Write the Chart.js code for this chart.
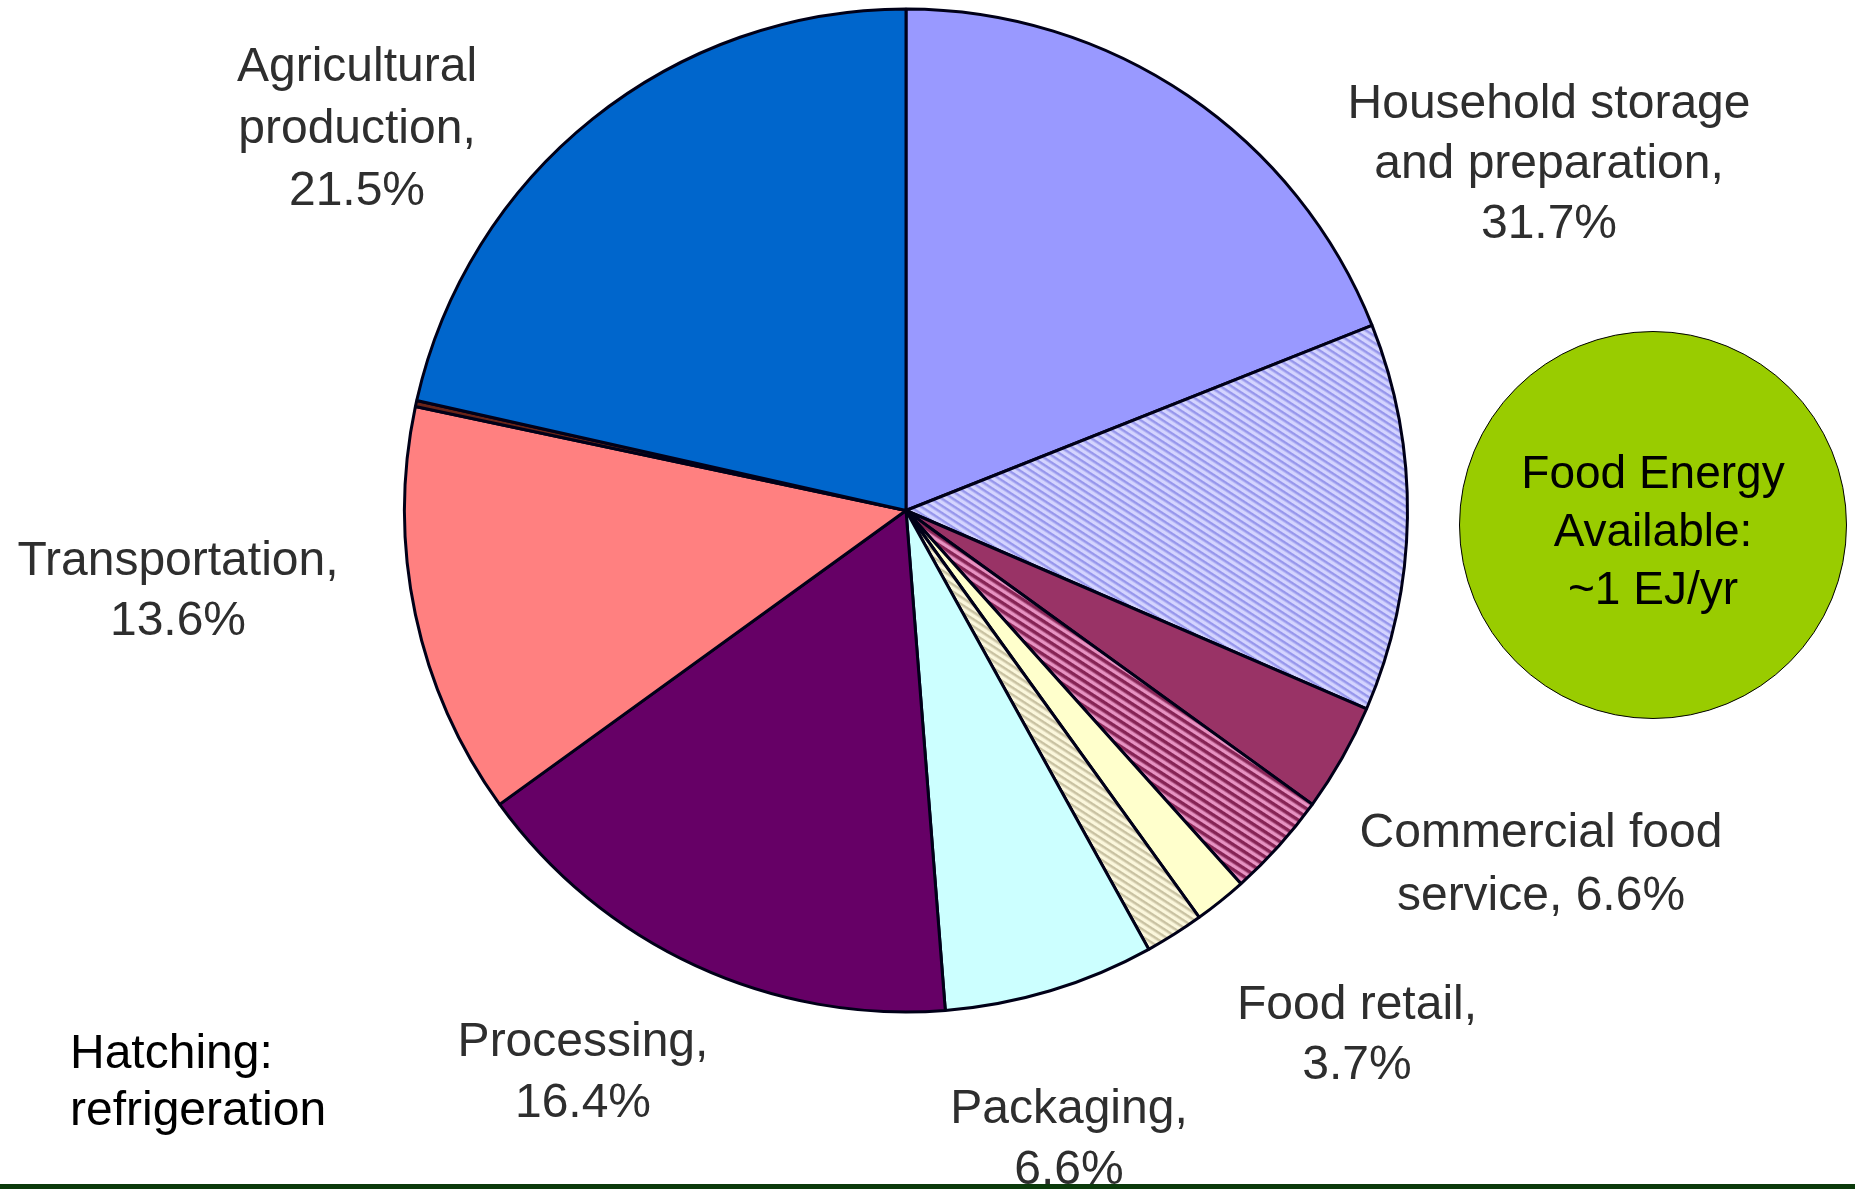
<!DOCTYPE html>
<html>
<head>
<meta charset="utf-8">
<script src="https://cdn.jsdelivr.net/npm/chart.js@4/dist/chart.umd.min.js"></script>
<style>
  html, body { margin: 0; padding: 0; background: #ffffff; }
  #wrap { position: relative; width: 1855px; height: 1189px; overflow: hidden; background: #ffffff; }
  #chartBox { position: absolute; left: 0; top: 0; width: 1855px; height: 1189px; }
  #bubble {
    position: absolute; left: 1459px; top: 331px; width: 388px; height: 388px;
    border-radius: 50%; background: #99cc00; border: 1.5px solid #000;
    box-sizing: border-box;
  }
  #bubbleText {
    position: absolute; left: 1453px; top: 443px; width: 400px; text-align: center;
    font-family: "Liberation Sans", Arial, sans-serif; font-size: 46px; line-height: 58px; color: #000;
  }
  #hatchNote {
    position: absolute; left: 70px; top: 1023px;
    font-family: "Liberation Sans", Arial, sans-serif; font-size: 48px; line-height: 57px; color: #000;
  }
  #bottomBar { position: absolute; left: 0; top: 1184px; width: 1855px; height: 5px; background: #0b3a0b; }
</style>
</head>
<body>
<div id="wrap">
  <div id="chartBox"><canvas id="c"></canvas></div>
  <div id="bubble"></div>
  <div id="bubbleText">Food Energy<br>Available:<br>~1 EJ/yr</div>
  <div id="hatchNote">Hatching:<br>refrigeration</div>
  <div id="bottomBar"></div>
</div>
<script>
// ---- data (clockwise from 12 o'clock) ----
const categories = [
  'Household storage and preparation',
  'Household storage and preparation (refrigeration)',
  'Commercial food service',
  'Commercial food service (refrigeration)',
  'Food retail',
  'Food retail (refrigeration)',
  'Packaging',
  'Processing',
  'Transportation',
  'Transportation (refrigeration)',
  'Agricultural production'
];
const values = [19.0, 12.5, 3.5, 3.4, 1.7, 1.9, 6.8, 16.3, 13.3, 0.2, 21.5];
const hatched = [false, true, false, true, false, true, false, false, false, true, false];

// label texts
const labelTexts = [
  ['Household storage', 'and preparation,', '31.7%'],
  ['Commercial food', 'service, 6.6%'],
  ['Food retail,', '3.7%'],
  ['Packaging,', '6.6%'],
  ['Processing,', '16.4%'],
  ['Transportation,', '13.6%'],
  ['Agricultural', 'production,', '21.5%']
];

// ---- styles ----
function stripe(bg, fg, period, lineW, angle) {
  const t = document.createElement('canvas');
  t.width = period; t.height = period;
  const g = t.getContext('2d');
  g.fillStyle = bg; g.fillRect(0, 0, period, period);
  g.fillStyle = fg; g.fillRect(0, 0, period, lineW);
  const p = g.createPattern(t, 'repeat');
  try { p.setTransform(new DOMMatrix().rotateSelf(angle)); } catch (e) {}
  return p;
}
const fills = [
  '#9999ff',
  stripe('#d4d4ff', '#9797ec', 6, 2.5, 33),
  '#993366',
  stripe('#e792c2', '#862455', 7, 3.5, 33),
  '#ffffcc',
  stripe('#fbf7dc', '#c9c2a2', 6, 2.5, 33),
  '#ccffff',
  '#660066',
  '#ff8080',
  '#6a2418',
  '#0066cc'
];

// label placement (centre x, first baseline y, line step)
const labelLayout = [
  [1549, 118, 60],
  [1541, 847, 63],
  [1357, 1019, 60],
  [1069, 1123, 61],
  [583, 1056, 61],
  [178, 575, 60],
  [357, 81, 62]
];

const labelPlugin = {
  id: 'sliceLabels',
  afterDraw(chart) {
    const ctx = chart.ctx;
    ctx.save();
    ctx.font = '48px "Liberation Sans", Arial, sans-serif';
    ctx.fillStyle = '#2e2e2e';
    ctx.textAlign = 'center';
    ctx.textBaseline = 'alphabetic';
    labelTexts.forEach((lines, i) => {
      const [x, y, step] = labelLayout[i];
      lines.forEach((s, j) => ctx.fillText(s, x, y + j * step));
    });
    ctx.restore();
  }
};

new Chart(document.getElementById('c'), {
  type: 'pie',
  data: {
    labels: categories,
    datasets: [{
      data: values,
      backgroundColor: fills,
      borderColor: '#000018',
      borderWidth: 3,
      hoverOffset: 0,
      offset: 0
    }]
  },
  options: {
    responsive: true,
    maintainAspectRatio: false,
    animation: false,
    events: [],
    layout: { padding: { left: 403, right: 446, top: 7, bottom: 175 } },
    plugins: {
      legend: { display: false },
      tooltip: { enabled: false },
      title: { display: false }
    }
  },
  plugins: [labelPlugin]
});
</script>
</body>
</html>
